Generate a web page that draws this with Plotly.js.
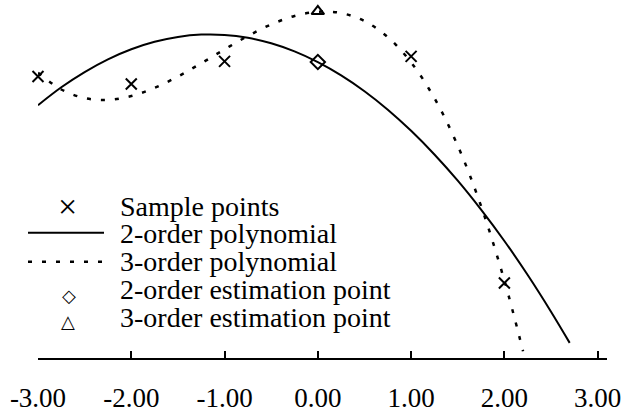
<!DOCTYPE html>
<html>
<head>
<meta charset="utf-8">
<script src="https://cdn.plot.ly/plotly-3.0.1.min.js"></script>
<style>html,body{margin:0;padding:0;background:#fff;}#chart{width:623px;height:419px;}</style>
</head>
<body>
<div id="chart"></div>
<script>
// ---- data ----
const sampleX = [-3, -2, -1, 1, 2];
const sampleY = [3.017, 2.936, 3.178, 3.232, 0.804];

const poly2X = [-3.0, -2.75, -2.5, -2.25, -2.0, -1.75, -1.5, -1.25, -1.0, -0.75, -0.5, -0.25, 0, 0.25, 0.5, 0.75, 1.0, 1.25, 1.5, 1.75, 2.0, 2.25, 2.5, 2.7];
const poly2Y = [2.709, 2.901, 3.064, 3.200, 3.308, 3.388, 3.440, 3.465, 3.462, 3.431, 3.372, 3.285, 3.170, 3.028, 2.858, 2.660, 2.434, 2.181, 1.900, 1.590, 1.254, 0.889, 0.496, 0.162];

const poly3X = [-3.0, -2.75, -2.5, -2.25, -2.0, -1.75, -1.5, -1.25, -1.0, -0.75, -0.5, -0.25, 0, 0.25, 0.5, 0.75, 1.0, 1.25, 1.5, 1.75, 2.0, 2.2];
const poly3Y = [3.056, 2.877, 2.785, 2.765, 2.807, 2.895, 3.016, 3.158, 3.307, 3.450, 3.574, 3.665, 3.710, 3.696, 3.610, 3.438, 3.167, 2.784, 2.275, 1.628, 0.830, 0.072];

const est2X = [0];
const est2Y = [3.172];
const est3X = [0];
const est3Y = [3.714];

const xTickVals = [-3, -2, -1, 0, 1, 2, 3];
const xTickText = ['-3.00', '-2.00', '-1.00', '0.00', '1.00', '2.00', '3.00'];

const legendLabels = ['Sample points', '2-order polynomial', '3-order polynomial', '2-order estimation point', '3-order estimation point'];

// ---- layout helpers ----
const W = 623, H = 419;
const M = {l: 38, r: 16, t: 4, b: 61};
const PW = W - M.l - M.r, PH = H - M.t - M.b;
const px = v => (v - M.l) / PW;          // pixel x -> paper
const py = v => (H - M.b - v) / PH;      // pixel y -> paper
const FONT = 'Liberation Serif, Times New Roman, serif';

const traces = [
  {x: sampleX, y: sampleY, mode: 'markers', name: legendLabels[0], cliponaxis: false,
   marker: {symbol: 'x-thin-open', size: 11, color: '#000', line: {color: '#000', width: 2}}},
  {x: poly2X, y: poly2Y, mode: 'lines', name: legendLabels[1], line: {color: '#000', width: 2, shape: 'spline'}},
  {x: poly3X, y: poly3Y, mode: 'lines', name: legendLabels[2], line: {color: '#000', width: 2.5, dash: '4px,10px', shape: 'spline'}},
  {x: est2X, y: est2Y, mode: 'markers', name: legendLabels[3], cliponaxis: false,
   marker: {symbol: 'diamond-open', size: 11, color: '#000', line: {color: '#000', width: 2}}},
  {x: est3X, y: est3Y, mode: 'markers', name: legendLabels[4], cliponaxis: false,
   marker: {symbol: 'triangle-up-open', size: 11, color: '#000', line: {color: '#000', width: 2}}}
];

// legend drawn as annotations/shapes (tight line spacing of the original)
const rowY = [204, 231, 259, 287.5, 315.5];
const textX = 118;
const annotations = legendLabels.map((t, i) => ({
  xref: 'paper', yref: 'paper', x: px(textX), y: py(rowY[i] + 2), xanchor: 'left', yanchor: 'middle',
  text: t, showarrow: false, font: {family: FONT, size: 28, color: '#000'}
}));
annotations.push({xref: 'paper', yref: 'paper', x: px(67), y: py(206), xanchor: 'center', yanchor: 'middle',
  text: '×', showarrow: false, font: {family: FONT, size: 34, color: '#000'}});
annotations.push({xref: 'paper', yref: 'paper', x: px(69), y: py(295), xanchor: 'center', yanchor: 'middle',
  text: '◇', showarrow: false, font: {family: 'DejaVu Sans, Noto Sans', size: 18, color: '#000'}});
annotations.push({xref: 'paper', yref: 'paper', x: px(68), y: py(321), xanchor: 'center', yanchor: 'middle',
  text: '△', showarrow: false, font: {family: 'DejaVu Sans, Noto Sans', size: 18, color: '#000'}});

const shapes = [
  {type: 'line', xref: 'paper', yref: 'paper', x0: px(28), x1: px(104), y0: py(232.7), y1: py(232.7), line: {color: '#000', width: 2}},
  {type: 'line', xref: 'paper', yref: 'paper', x0: px(28), x1: px(104), y0: py(261.7), y1: py(261.7), line: {color: '#000', width: 2.5, dash: '4px,10px'}}
];

const layout = {
  width: W, height: H,
  margin: M,
  paper_bgcolor: '#fff', plot_bgcolor: '#fff',
  showlegend: false,
  font: {family: FONT, color: '#000'},
  xaxis: {
    range: [-3, 3.1], showgrid: false, zeroline: false,
    showline: true, linecolor: '#000', linewidth: 2,
    ticks: 'inside', ticklen: 7, tickwidth: 2, tickcolor: '#000',
    tickvals: xTickVals, ticktext: xTickText,
    tickfont: {family: FONT, size: 27, color: '#000'},
    ticklabelstandoff: 15
  },
  yaxis: {range: [0, 3.793], visible: false, showgrid: false, zeroline: false},
  annotations: annotations,
  shapes: shapes
};

Plotly.newPlot('chart', traces, layout, {displayModeBar: false, staticPlot: true});
</script>
</body>
</html>
